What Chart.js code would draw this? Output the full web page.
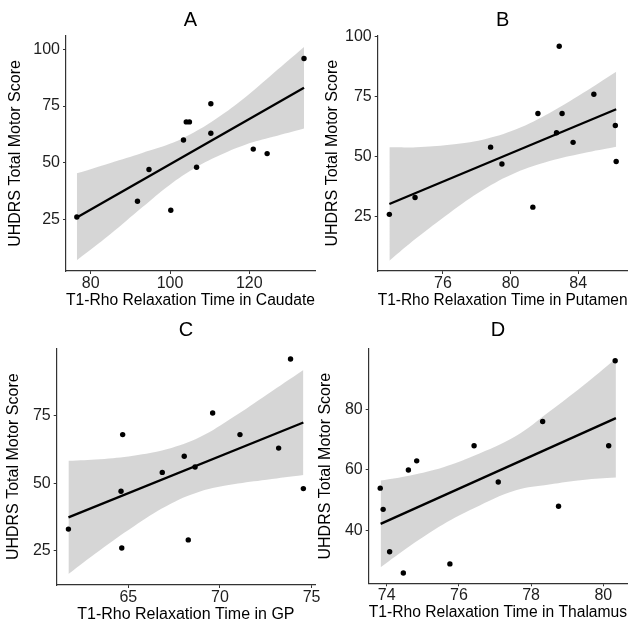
<!DOCTYPE html>
<html>
<head>
<meta charset="utf-8">
<script src="https://cdn.jsdelivr.net/npm/chart.js@4.4.1/dist/chart.umd.min.js"></script>
<style>
  html, body { margin: 0; padding: 0; background: #ffffff; }
  #wrap { position: relative; width: 633px; height: 622px; overflow: hidden; background: #fff; }
  #wrap canvas { position: absolute; left: 0; top: 0; }
</style>
</head>
<body>
<div id="wrap">
  <canvas id="cA" width="633" height="622"></canvas>
  <canvas id="cB" width="633" height="622"></canvas>
  <canvas id="cC" width="633" height="622"></canvas>
  <canvas id="cD" width="633" height="622"></canvas>
</div>
<script>
// ---------------- data ----------------
const panelTitles = ['A', 'B', 'C', 'D'];
const xAxisTitles = [
  'T1-Rho Relaxation Time in Caudate',
  'T1-Rho Relaxation Time in Putamen',
  'T1-Rho Relaxation Time in GP',
  'T1-Rho Relaxation Time in Thalamus'
];
const yAxisTitle = 'UHDRS Total Motor Score';

// Panel A – Caudate
const caudateX = [76.5, 91.8, 94.7, 100.2, 103.4, 104.1, 104.9, 106.7, 110.3, 110.3, 121.0, 124.5, 133.8];
const caudateY = [26, 33, 47, 29, 60, 68, 68, 48, 76, 63, 56, 54, 96];
const caudateFitX = [76.5, 133.8];
const caudateFitY = [25.8, 83.1];
const caudateBandX = [76.5, 85, 93, 100, 106, 112, 119, 126, 133.8];
const caudateBandUpper = [45.3, 49.9, 54.3, 58.3, 63.3, 69.8, 78.9, 89.4, 101.1];
const caudateBandLower = [6.9, 18.5, 30.3, 40.3, 47.3, 52.8, 57.9, 61.4, 65.1];
const caudateXTicks = [80, 100, 120];
const caudateYTicks = [25, 50, 75, 100];

// Panel B – Putamen
const putamenX = [72.83, 74.35, 78.82, 79.49, 81.32, 81.62, 82.72, 82.88, 83.05, 83.7, 84.93, 86.2, 86.25];
const putamenY = [26, 33, 54, 47, 29, 68, 60, 96, 68, 56, 76, 63, 48];
const putamenFitX = [72.83, 86.25];
const putamenFitY = [30.3, 69.8];
const putamenBandX = [72.83, 74.42, 76.39, 78.36, 80.33, 82.31, 84.28, 86.25];
const putamenBandUpper = [53.9, 54.0, 55.0, 57.1, 61.4, 68.2, 76.5, 85.4];
const putamenBandLower = [6.7, 16.0, 26.6, 36.1, 43.4, 48.2, 51.5, 54.2];
const putamenXTicks = [76, 80, 84];
const putamenYTicks = [25, 50, 75, 100];

// Panel C – GP
const gpX = [61.73, 64.64, 64.6, 64.69, 66.85, 68.05, 68.27, 68.64, 69.6, 71.09, 73.2, 73.85, 74.55];
const gpY = [33, 26, 47, 68, 54, 60, 29, 56, 76, 68, 63, 96, 48];
const gpFitX = [61.73, 74.55];
const gpFitY = [37.35, 72.5];
const gpBandX = [61.73, 63.45, 65.27, 67.09, 68.91, 70.73, 72.55, 74.55];
const gpBandUpper = [58.3, 58.9, 60.2, 62.55, 67.1, 74.5, 82.8, 91.95];
const gpBandLower = [16.4, 25.2, 33.9, 41.55, 46.9, 49.6, 51.3, 53.05];
const gpXTicks = [65, 70, 75];
const gpYTicks = [25, 50, 75];

// Panel D – Thalamus
const thalamusX = [73.82, 73.9, 74.08, 74.46, 74.6, 74.83, 75.75, 76.42, 77.09, 78.32, 78.76, 80.15, 80.33];
const thalamusY = [54, 47, 33, 26, 60, 63, 29, 68, 56, 76, 48, 68, 96];
const thalamusFitX = [73.83, 80.35];
const thalamusFitY = [42.2, 77.1];
const thalamusBandX = [73.83, 74.65, 75.57, 76.4, 77.58, 78.5, 79.43, 80.35];
const thalamusBandUpper = [56.5, 58.2, 60.9, 64.6, 71.2, 79.2, 87.7, 96.8];
const thalamusBandLower = [27.9, 35.0, 42.1, 47.3, 53.3, 55.2, 56.7, 57.5];
const thalamusXTicks = [74, 76, 78, 80];
const thalamusYTicks = [40, 60, 80];

// ---------------- drawing ----------------
const W = 633, H = 622;
const FONT = "'Liberation Sans', Arial, Helvetica, sans-serif";
const pairs = (xs, ys) => xs.map((x, i) => ({ x: x, y: ys[i] }));

function makePanel(canvasId, p) {
  const box = p.box, plot = p.plot;
  const xAxisH = box.y1 - plot.B;
  const yAxisW = plot.L - box.x0;
  const titleH = plot.T - box.y0;
  const titleLH = 20 * 1.2;
  const titlePadTop = 8;
  const axisTitleLH = 16 * 1.2;
  new Chart(document.getElementById(canvasId), {
    type: 'scatter',
    data: {
      datasets: [
        { data: pairs(p.xs, p.ys), pointRadius: 2.7, pointHoverRadius: 2.7,
          backgroundColor: '#000', borderColor: '#000', borderWidth: 0, showLine: false },
        { data: pairs(p.fitX, p.fitY), showLine: true, borderColor: '#000', borderWidth: 2.3,
          pointRadius: 0, fill: false, tension: 0 },
        { data: pairs(p.bandX, p.bandUp), showLine: true, borderColor: 'rgba(0,0,0,0)', borderWidth: 0,
          pointRadius: 0, fill: '+1', backgroundColor: 'rgba(153,153,153,0.4)', tension: 0.4 },
        { data: pairs(p.bandX, p.bandLo), showLine: true, borderColor: 'rgba(0,0,0,0)', borderWidth: 0,
          pointRadius: 0, fill: false, tension: 0.4 }
      ]
    },
    options: {
      responsive: false,
      animation: false,
      devicePixelRatio: 1,
      events: [],
      layout: { padding: { left: box.x0, top: box.y0, right: W - plot.R, bottom: H - box.y1 } },
      plugins: {
        legend: { display: false },
        tooltip: { enabled: false },
        title: {
          display: true, text: p.title, fullSize: false, color: '#000',
          font: { family: FONT, size: 20, weight: 'normal', lineHeight: 1.2 },
          padding: { top: titlePadTop, bottom: titleH - titlePadTop - titleLH }
        }
      },
      scales: {
        x: {
          type: 'linear', position: 'bottom', min: p.xMin, max: p.xMax,
          afterBuildTicks: s => { s.ticks = p.xTicks.map(v => ({ value: v })); },
          afterFit: s => { s.height = xAxisH; s.paddingLeft = 0; s.paddingRight = 0; },
          border: { display: true, color: '#333', width: 1.2 },
          grid: { display: true, drawOnChartArea: false, drawTicks: true, tickLength: 3, color: '#333', lineWidth: 1 },
          ticks: { padding: 0, color: '#1e1e1e', font: { family: FONT, size: 16 }, maxRotation: 0, autoSkip: false },
          title: { display: true, text: p.xTitle, color: '#000', font: { family: FONT, size: 16, lineHeight: 1.2 },
                   padding: { top: 0, bottom: xAxisH - 29.5 - axisTitleLH / 2 } }
        },
        y: {
          type: 'linear', position: 'left', min: p.yMin, max: p.yMax,
          afterBuildTicks: s => { s.ticks = p.yTicks.map(v => ({ value: v })); },
          afterFit: s => { s.width = yAxisW; s.paddingTop = 0; s.paddingBottom = 0; },
          border: { display: true, color: '#333', width: 1.2 },
          grid: { display: true, drawOnChartArea: false, drawTicks: true, tickLength: 3, color: '#333', lineWidth: 1 },
          ticks: { padding: 3, color: '#1e1e1e', font: { family: FONT, size: 16 }, autoSkip: false },
          title: { display: true, text: yAxisTitle, color: '#000', font: { family: FONT, size: 16, lineHeight: 1.2 },
                   padding: { top: p.yTitleCenter - axisTitleLH / 2, bottom: 0 } }
        }
      }
    }
  });
}

makePanel('cA', {
  title: panelTitles[0], xTitle: xAxisTitles[0],
  box: { x0: 0, y0: 0, x1: 316, y1: 310 }, plot: { L: 66, T: 36, R: 315, B: 271 },
  xMin: 73.77, xMax: 136.57, yMin: 2.2, yMax: 105.9,
  xTicks: caudateXTicks, yTicks: caudateYTicks,
  xs: caudateX, ys: caudateY, fitX: caudateFitX, fitY: caudateFitY,
  bandX: caudateBandX, bandUp: caudateBandUpper, bandLo: caudateBandLower,
  yTitleCenter: 16
});
makePanel('cB', {
  title: panelTitles[1], xTitle: xAxisTitles[1],
  box: { x0: 316, y0: 0, x1: 633, y1: 310 }, plot: { L: 377.7, T: 35.5, R: 627.5, B: 271 },
  xMin: 72.14, xMax: 86.92, yMin: 2.4, yMax: 100.5,
  xTicks: putamenXTicks, yTicks: putamenYTicks,
  xs: putamenX, ys: putamenY, fitX: putamenFitX, fitY: putamenFitY,
  bandX: putamenBandX, bandUp: putamenBandUpper, bandLo: putamenBandLower,
  yTitleCenter: 17
});
makePanel('cC', {
  title: panelTitles[2], xTitle: xAxisTitles[2],
  box: { x0: 0, y0: 310, x1: 316, y1: 622 }, plot: { L: 56.7, T: 348.5, R: 315.1, B: 585 },
  xMin: 61.09, xMax: 75.19, yMin: 12.3, yMax: 99.9,
  xTicks: gpXTicks, yTicks: gpYTicks,
  xs: gpX, ys: gpY, fitX: gpFitX, fitY: gpFitY,
  bandX: gpBandX, bandUp: gpBandUpper, bandLo: gpBandLower,
  yTitleCenter: 13.5
});
makePanel('cD', {
  title: panelTitles[3], xTitle: xAxisTitles[3],
  box: { x0: 316, y0: 310, x1: 633, y1: 622 }, plot: { L: 368.7, T: 349, R: 627.1, B: 583.3 },
  xMin: 73.5, xMax: 80.66, yMin: 22.6, yMax: 99.9,
  xTicks: thalamusXTicks, yTicks: thalamusYTicks,
  xs: thalamusX, ys: thalamusY, fitX: thalamusFitX, fitY: thalamusFitY,
  bandX: thalamusBandX, bandUp: thalamusBandUpper, bandLo: thalamusBandLower,
  yTitleCenter: 10
});
</script>
</body>
</html>
